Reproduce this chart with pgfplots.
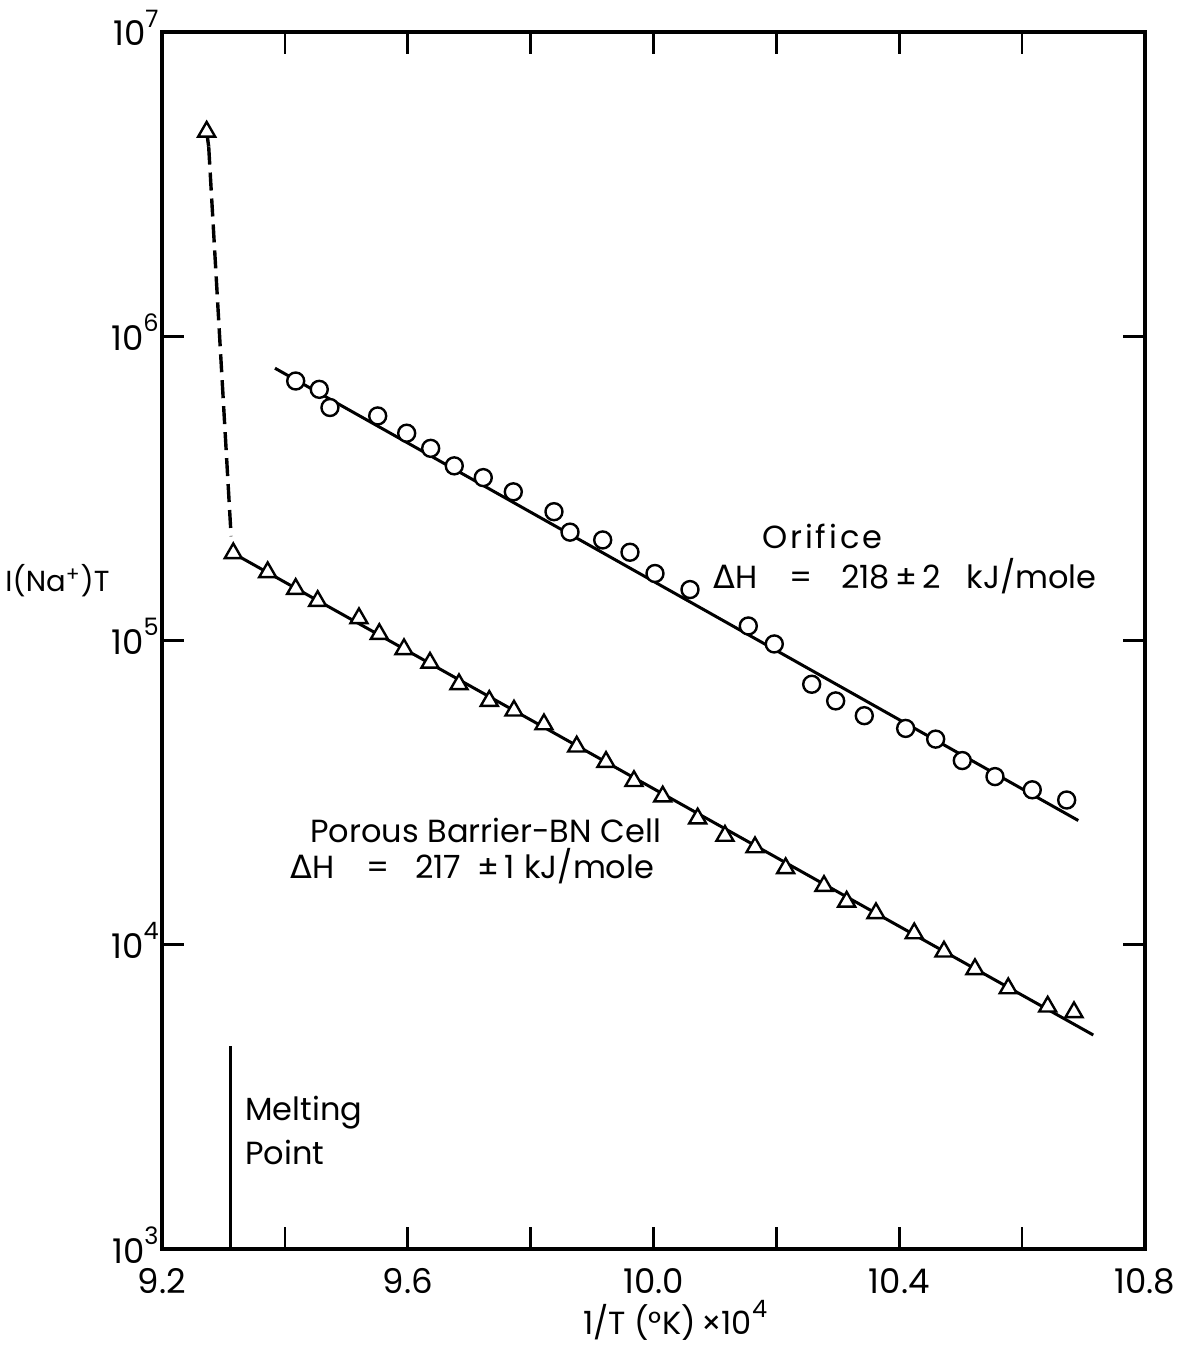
\documentclass[border=0pt]{standalone}
\usepackage{pgfplots}
\pgfplotsset{compat=1.18}
\usepackage{fontspec}
\setmainfont{Poppins}
\newfontfamily\dvs{DejaVu Sans}
\newcommand\lbl{\fontsize{16}{19}\selectfont}
\newcommand\ylbl{\fontsize{14.5}{17}\selectfont}
\newcommand\tlbl{\fontsize{17}{20}\selectfont}
\newcommand\supr[1]{\raisebox{0.55em}{\fontsize{12}{14}\selectfont #1}}
\begin{document}
\begin{tikzpicture}
\useasboundingbox (-81pt,-49.5pt) rectangle (507.5pt,624.5pt);
\begin{axis}[
  scale only axis, width=491.5pt, height=608.5pt,
  xmin=9.2, xmax=10.8, ymode=log, ymin=1e3, ymax=1e7,
  xtick={9.2,9.6,10.0,10.4,10.8},
  xticklabels={9.2,9.6,10.0,10.4,10.8},
  minor xtick={9.4,9.8,10.2,10.6},
  ytick={1e3,1e4,1e5,1e6,1e7},
  yticklabels={10\supr{3},10\supr{4},10\supr{5},10\supr{6},10\supr{7}},
  yminorticks=false,
  tick align=inside,
  major tick length=11pt, minor tick length=11pt,
  every tick/.style={black, line width=1.3pt},
  axis line style={line width=1.6pt},
  ticklabel style={font=\tlbl},
  yticklabel style={inner sep=1.5pt, yshift=2pt},
  xticklabel style={yshift=-6pt},
  xlabel={1/T (°K)\,\texttimes10\supr{4}},
  every axis x label/.style={at={(axis description cs:0.522,-0.0585)}, anchor=center, font=\lbl},
  ylabel={I(Na\textsuperscript{+})T},
  every axis y label/.style={at={(axis description cs:-0.053,0.549)}, anchor=east, inner sep=0pt, font=\ylbl},
  clip=false
]
% fitted lines
\addplot[line width=1.5pt] coordinates {(9.3839,7.85e5) (10.6914,2.56e4)};
\addplot[line width=1.5pt] coordinates {(9.316,1.935e5) (10.7158,5.05e3)};
\addplot[line width=1.7pt, dash pattern=on 9pt off 4pt] coordinates {(9.2760,4.2e6) (9.3125,2.2e5)};
\addplot[line width=1.7pt] coordinates {(9.2727,4.7e6) (9.2760,4.2e6)};
\addplot[line width=1.5pt] coordinates {(9.3107,1e3) (9.3107,4.63e3)};
% orifice data
\addplot[only marks, mark=*, mark size=4.25pt, mark options={fill=white, draw=black, line width=1.2pt}] coordinates {
(9.4176,7.125e5) (9.456,6.69e5) (9.4734,5.83e5) (9.5511,5.47e5) (9.5983,4.80e5)
(9.6373,4.28e5) (9.6757,3.75e5) (9.7229,3.43e5) (9.7718,3.08e5) (9.838,2.65e5)
(9.8641,2.27e5) (9.9173,2.14e5) (9.9617,1.95e5) (10.0024,1.66e5) (10.0594,1.47e5)
(10.1543,1.116e5) (10.1966,9.74e4) (10.2575,7.18e4) (10.2965,6.33e4) (10.3431,5.66e4)
(10.4104,5.14e4) (10.4593,4.74e4) (10.5026,4.03e4) (10.5558,3.57e4) (10.6165,3.23e4)
(10.6725,2.99e4)};
% porous barrier data
\addplot[only marks, mark=triangle*, mark size=4.9pt, mark options={fill=white, draw=black, line width=1.2pt}] coordinates {
(9.2727,4.7e6)
(9.316,1.935e5) (9.372,1.676e5) (9.4176,1.477e5) (9.4534,1.348e5) (9.5206,1.183e5)
(9.5537,1.05e5) (9.5939,9.36e4) (9.6362,8.45e4) (9.6834,7.18e4) (9.7327,6.33e4)
(9.7729,5.88e4) (9.8217,5.30e4) (9.875,4.48e4) (9.9227,3.99e4) (9.9682,3.45e4)
(10.015,3.07e4) (10.0719,2.60e4) (10.1163,2.28e4) (10.1652,2.09e4) (10.2151,1.784e4)
(10.2775,1.56e4) (10.3144,1.385e4) (10.3621,1.269e4) (10.4244,1.09e4) (10.4728,9.49e3)
(10.5232,8.31e3) (10.5774,7.19e3) (10.6416,6.26e3) (10.6844,6.0e3)};
% annotations
\node[anchor=west, inner sep=0pt, font=\lbl] at (axis cs:10.1766,2.205e5) {\addfontfeature{LetterSpace=9}Orifice};
\node[anchor=west, inner sep=0pt, font=\lbl] at (axis cs:10.0968,1.63e5) {{\dvs Δ}H\hspace{1em}=\hspace{0.9em}218\,±\,2\hspace{0.8em}kJ/mole};
\node[anchor=west, inner sep=0pt, font=\lbl] at (axis cs:9.4409,2.38e4) {Porous Barrier-BN Cell};
\node[anchor=west, inner sep=0pt, font=\lbl] at (axis cs:9.4083,1.815e4) {{\dvs Δ}H\hspace{1em}=\hspace{0.8em}217\hspace{0.5em}±\,1\hspace{0.3em}kJ/mole};
\node[anchor=west, inner sep=0pt, font=\lbl] at (axis cs:9.3351,2.8e3) {Melting};
\node[anchor=west, inner sep=0pt, font=\lbl] at (axis cs:9.3351,2.08e3) {Point};
\end{axis}
\end{tikzpicture}
\end{document}
